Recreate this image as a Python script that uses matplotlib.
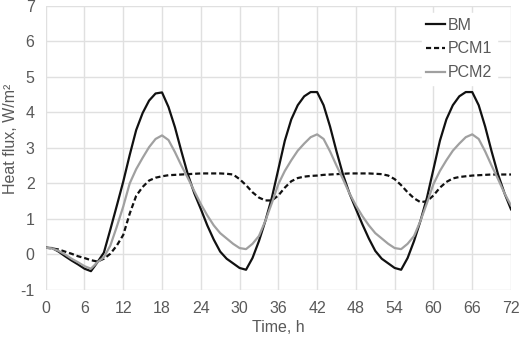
import matplotlib
matplotlib.use("Agg")
import matplotlib.pyplot as plt
import numpy as np

plt.rcParams['font.family'] = ['Liberation Sans', 'DejaVu Sans']
plt.rcParams['axes.unicode_minus'] = False

hours = list(range(0, 73))

bm = [0.19, 0.18, 0.08, -0.05, -0.17, -0.28, -0.40, -0.47, -0.22, 0.05,
      0.70, 1.37, 2.05, 2.80, 3.50, 3.98, 4.33, 4.53, 4.56, 4.15,
      3.58, 2.90, 2.25, 1.72, 1.28, 0.82, 0.42, 0.08, -0.12, -0.25,
      -0.38, -0.43, -0.10, 0.38, 0.95, 1.60, 2.40, 3.20, 3.80, 4.20,
      4.45, 4.57, 4.57, 4.20, 3.60, 2.90, 2.25, 1.72, 1.28, 0.85,
      0.45, 0.10, -0.12, -0.25, -0.38, -0.43, -0.10, 0.38, 0.95, 1.60,
      2.40, 3.20, 3.80, 4.20, 4.45, 4.57, 4.57, 4.20, 3.60, 2.90,
      2.25, 1.72, 1.27]

pcm1 = [0.19, 0.17, 0.14, 0.08, 0.02, -0.05, -0.10, -0.16, -0.20, -0.12,
        0.02, 0.25, 0.55, 1.15, 1.65, 1.90, 2.08, 2.16, 2.20, 2.23,
        2.24, 2.25, 2.26, 2.27, 2.28, 2.28, 2.28, 2.28, 2.27, 2.25,
        2.12, 1.95, 1.75, 1.60, 1.52, 1.52, 1.66, 1.88, 2.06, 2.15,
        2.19, 2.21, 2.22, 2.24, 2.25, 2.26, 2.27, 2.28, 2.28, 2.28,
        2.28, 2.27, 2.26, 2.22, 2.12, 1.95, 1.75, 1.58, 1.47, 1.50,
        1.66, 1.88, 2.04, 2.14, 2.18, 2.20, 2.22, 2.23, 2.24, 2.25,
        2.25, 2.25, 2.25]

pcm2 = [0.19, 0.17, 0.10, 0.00, -0.12, -0.22, -0.33, -0.40, -0.22, -0.08,
        0.25, 0.78, 1.35, 2.00, 2.40, 2.72, 3.02, 3.25, 3.35, 3.22,
        2.88, 2.50, 2.15, 1.78, 1.42, 1.10, 0.82, 0.60, 0.45, 0.30,
        0.18, 0.15, 0.30, 0.52, 0.95, 1.45, 1.98, 2.35, 2.65, 2.92,
        3.12, 3.30, 3.38, 3.25, 2.90, 2.50, 2.12, 1.72, 1.38, 1.08,
        0.82, 0.60, 0.45, 0.30, 0.18, 0.15, 0.30, 0.52, 0.95, 1.45,
        1.98, 2.35, 2.65, 2.92, 3.12, 3.30, 3.38, 3.25, 2.90, 2.50,
        2.12, 1.72, 1.38]

x_ticks = list(range(0, 73, 6))
y_ticks = list(range(-1, 8))

FS = 11.5
TXT = '#595959'

fig = plt.figure(figsize=(5.2, 3.39), dpi=100)
ax = fig.add_axes([45.7/520, 1 - 290/339, (511 - 45.7)/520, (290 - 5.7)/339])

ax.plot(hours, bm, color='#111111', lw=1.6, label='BM')
ax.plot(hours, pcm1, color='#111111', lw=1.6, ls=(0, (2.3, 1.3)), label='PCM1')
ax.plot(hours, pcm2, color='#a0a0a0', lw=1.6, label='PCM2')

ax.set_xlim(0, 72)
ax.set_ylim(-1, 7)
ax.set_xticks(x_ticks)
ax.set_yticks(y_ticks)
ax.grid(True, color='#e0e0e0', lw=1.0)
ax.set_axisbelow(True)
for s in ax.spines.values():
    s.set_visible(False)
ax.tick_params(length=0, labelsize=FS, labelcolor=TXT, pad=8)

ax.set_xlabel('Time, h', fontsize=FS, color=TXT)
ax.set_ylabel('Heat flux, W/m²', fontsize=FS, color=TXT)
ax.xaxis.set_label_coords(0.5, (290 - 328) / 284.3)
ax.xaxis.label.set_va('center')
ax.yaxis.set_label_coords((11 - 45.7) / 465.3, 0.53)
ax.yaxis.label.set_va('center')

leg = ax.legend(loc='upper left', bbox_to_anchor=((421.5 - 45.7) / 465.3, 0.975),
                fontsize=FS, frameon=True, fancybox=False, handlelength=1.15,
                handletextpad=0.2, labelspacing=0.55, borderaxespad=0.0,
                borderpad=0.3)
leg.get_frame().set_facecolor('white')
leg.get_frame().set_edgecolor('white')
leg.get_frame().set_alpha(1.0)
for t in leg.get_texts():
    t.set_color(TXT)

fig.savefig('out.png', dpi=100)
